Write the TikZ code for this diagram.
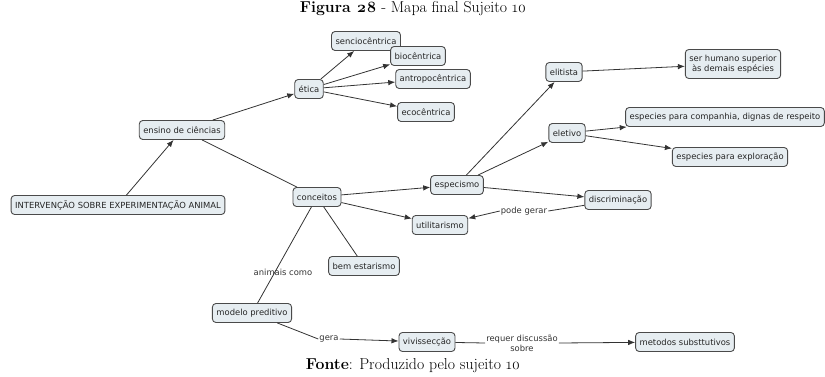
\documentclass[tikz,border=0pt]{standalone}
\usepackage{fontspec}
\setmainfont{Latin Modern Roman}
\newfontfamily\mapfont{DejaVu Sans}
\usetikzlibrary{arrows.meta}
\definecolor{nodefill}{HTML}{E6EDF1}
\definecolor{nodeedge}{HTML}{4A4A4A}
\definecolor{linkgray}{HTML}{333333}
\tikzset{
  concept/.style={draw=nodeedge, line width=0.9pt, fill=nodefill, rounded corners=3.5pt,
    font=\mapfont\fontsize{8.4}{9.6}\selectfont, text=black!85, inner xsep=4pt,
    minimum height=19pt, align=center},
  linklabel/.style={font=\mapfont\fontsize{8.4}{9.6}\selectfont, text=black!80,
    inner sep=1pt, align=center},
  conn/.style={draw=linkgray, line width=0.8pt},
  arr/.style={conn, -{Latex[length=7pt,width=5.5pt]}},
  caption/.style={font=\fontsize{15.8}{18}\selectfont, text=black, inner sep=0pt}
}
\begin{document}
\begin{tikzpicture}[x=1pt, y=-1pt]
  \useasboundingbox (0,0) rectangle (825,377);

  % headings
  \node[caption] (title) at (413,9) {\textbf{Figura \oldstylenums{28}} - Mapa final Sujeito \oldstylenums{10}};
  \node[caption] (source) at (413,366) {\textbf{Fonte}: Produzido pelo sujeito \oldstylenums{10}};

  % concepts
  \node[concept] (interv)  at (118,205) {INTERVENÇÃO SOBRE EXPERIMENTAÇÃO ANIMAL};
  \node[concept] (ensino)  at (182,130) {ensino de ciências};
  \node[concept] (etica)   at (309,89)  {ética};
  \node[concept] (sencio)  at (366,41)  {senciocêntrica};
  \node[concept] (bio)     at (418,56)  {biocêntrica};
  \node[concept] (antropo) at (433,79)  {antropocêntrica};
  \node[concept] (eco)     at (426,112) {ecocêntrica};
  \node[concept] (conc)    at (317,197) {conceitos};
  \node[concept] (espec)   at (457,185) {especismo};
  \node[concept] (elit)    at (564,72)  {elitista};
  \node[concept, minimum height=29pt, inner ysep=2pt] (superior) at (733,64)
        {ser humano superior\\às demais espécies};
  \node[concept] (eletivo) at (567,133) {eletivo};
  \node[concept] (compan)  at (725,117) {especies para companhia, dignas de respeito};
  \node[concept] (explor)  at (730,157) {especies para exploração};
  \node[concept] (discrim) at (618,200) {discriminação};
  \node[concept] (util)    at (440,225) {utilitarismo};
  \node[concept] (bem)     at (364,266) {bem estarismo};
  \node[concept] (modelo)  at (252,313) {modelo preditivo};
  \node[concept] (viviss)  at (427,342) {vivissecção};
  \node[concept] (metodos) at (685,342) {metodos substtutivos};

  % linking phrases
  \node[linklabel] (animais) at (283,272) {animais como};
  \node[linklabel] (gera)    at (329,339) {gera};
  \node[linklabel] (requer)  at (522,343) {requer discussão\\sobre};
  \node[linklabel] (pode)    at (524,211) {pode gerar};

  % links
  \draw[arr] (interv) -- (ensino);
  \draw[arr] (ensino) -- (etica);
  \draw[arr] (etica) -- (sencio);
  \draw[arr] (etica) -- (bio);
  \draw[arr] (etica) -- (antropo);
  \draw[arr] (etica) -- (eco);
  \draw[conn] (ensino) -- (conc);
  \draw[arr] (conc) -- (espec);
  \draw[arr] (conc) -- (util);
  \draw[conn] (conc) -- (bem);
  \draw[conn] (conc) -- (modelo);
  \draw[arr] (espec) -- (elit);
  \draw[arr] (espec) -- (eletivo);
  \draw[arr] (espec) -- (discrim);
  \draw[arr] (elit) -- (superior);
  \draw[arr] (eletivo) -- (compan);
  \draw[arr] (eletivo) -- (explor);
  \draw[conn] (discrim) -- (pode.east);
  \draw[arr] (pode.west) -- (util);
  \draw[conn] (modelo) -- (gera.west);
  \draw[arr] (gera.east) -- (viviss);
  \draw[conn] (viviss) -- (requer.west);
  \draw[arr] (requer.east) -- (metodos);
\end{tikzpicture}
\end{document}
